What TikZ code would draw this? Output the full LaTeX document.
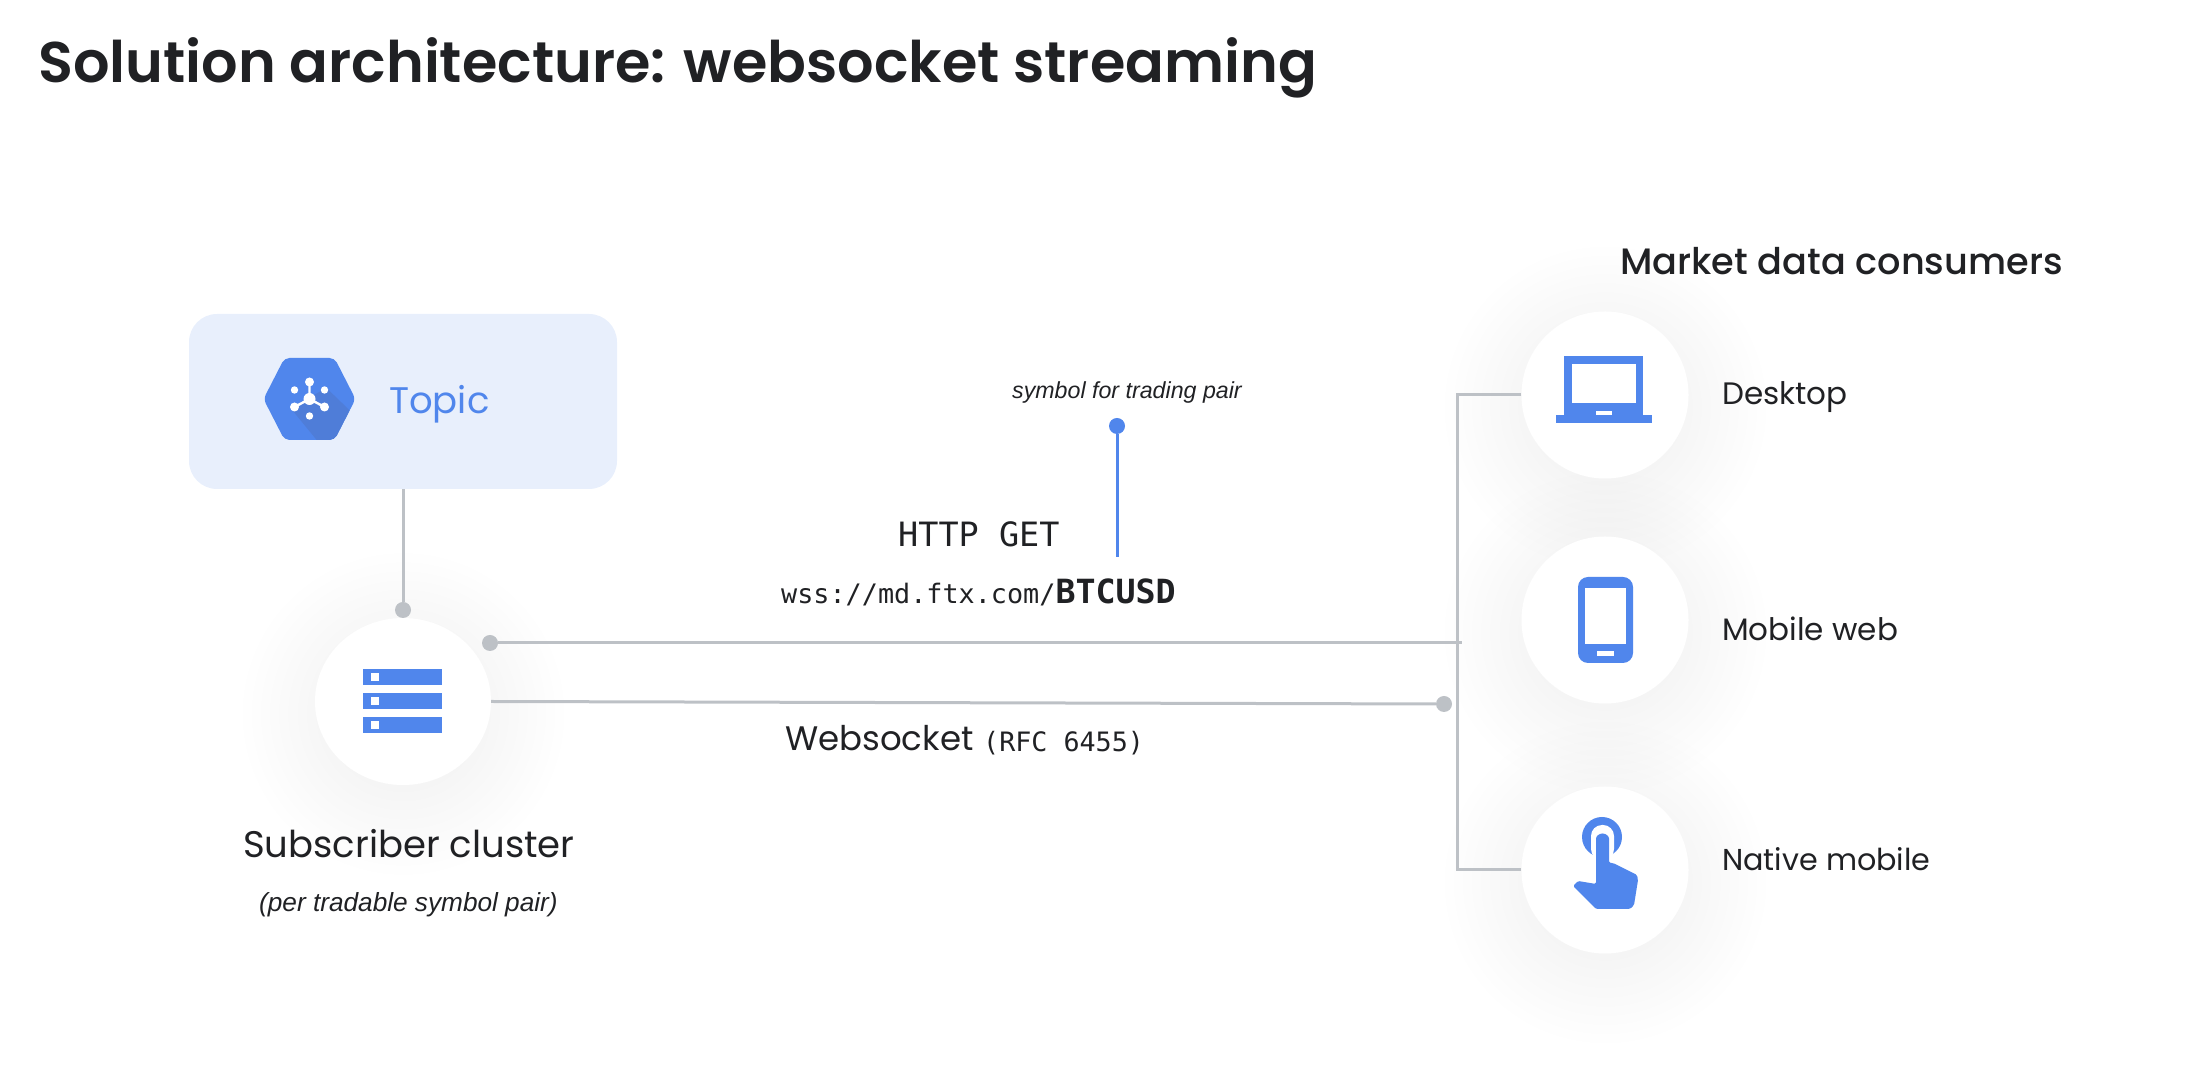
\documentclass[tikz,border=0pt]{standalone}
\usepackage{fontspec}
\setmainfont{Poppins}
\newfontfamily\notefont{Liberation Sans}
\newfontfamily\codefont{DejaVu Sans Mono}
\usetikzlibrary{arrows.meta, backgrounds, calc, fadings, positioning, shapes.geometric}
\definecolor{Blue}{HTML}{5086EC}
\definecolor{DarkBlue}{HTML}{4F7DD8}
\definecolor{LiteBlue}{HTML}{E8EFFC}
\definecolor{Grey}{HTML}{BDC1C6}
\definecolor{Ink}{HTML}{202124}
\tikzfading[name=soft_edge, inner color=transparent!0, outer color=transparent!100]
\tikzset{%
  topic_box/.style={%
    rectangle,%
    rounded corners=28pt,%
    fill=LiteBlue,%
    minimum width=428pt,%
    minimum height=175pt,%
  },
  round_node/.style={%
    circle,%
    fill=white,%
    inner sep=0pt,%
    minimum size=167pt,%
  },
  wide_node/.style={%
    ellipse,%
    fill=white,%
    inner sep=0pt,%
    minimum width=176pt,%
    minimum height=167pt,%
  },
  grey_dot/.style={%
    circle,%
    fill=Grey,%
    inner sep=0pt,%
    minimum size=16pt,%
  },
  blue_dot/.style={%
    grey_dot,%
    fill=Blue,%
  },
  grey_path/.style={%
    color=Grey,%
    line width=3pt,%
    line join=miter,%
  },
  blue_path/.style={%
    color=Blue,%
    line width=3pt,%
  },
  title_text/.style={%
    anchor=base west,%
    inner sep=0pt,%
    color=Ink,%
    font={\fontsize{57.3}{68}\selectfont\fontspec{Poppins SemiBold}},%
  },
  head_text/.style={%
    anchor=base west,%
    inner sep=0pt,%
    color=Ink,%
    font={\fontsize{36.7}{44}\selectfont\fontspec{Poppins Medium}},%
  },
  label_text/.style={%
    anchor=base west,%
    inner sep=0pt,%
    color=Ink,%
    font={\fontsize{31}{40}\selectfont},%
  },
  note_text/.style={%
    anchor=base west,%
    inner sep=0pt,%
    color=Ink,%
    font={\fontsize{26.2}{30}\selectfont\notefont\itshape},%
  },
  code_text/.style={%
    anchor=base west,%
    inner sep=0pt,%
    color=Ink,%
    font={\fontsize{26.8}{32}\selectfont\codefont},%
  },
}
\begin{document}
\begin{tikzpicture}[x=1pt, y=1pt, on grid]
  \useasboundingbox (0,0) rectangle (2194,1086);

  \node [title_text] (Title) at (38,1003) {Solution architecture: websocket streaming};

  % left side
  \node [topic_box] (Topic) at (403,684.5) {};
  \node [wide_node, below = 300 of Topic] (Subscriber) {};
  \node [grey_dot, below = 208.5 of Topic] (TopicDot) {};
  \node [grey_dot, above right = 58.5 and 87 of Subscriber] (FeedDot) {};
  \node [label_text, anchor=base west, color=Blue, font={\fontsize{37}{44}\selectfont}] (TopicText) at (389,672) {Topic};
  \node [label_text, font={\fontsize{37}{44}\selectfont}] (SubscriberText) at (243,228) {Subscriber cluster};
  \node [note_text] (PerSymbol) at (259,174) {(per tradable symbol pair)};

  % right side
  \node [round_node] (Desktop) at (1605,691) {};
  \node [round_node, below = 225 of Desktop] (Mobile) {};
  \node [round_node, below = 250 of Mobile] (Native) {};
  \node [head_text] (Consumers) at (1620,811) {Market data consumers};
  \node [label_text] (DesktopText) at ($(Desktop)+(117,0)+(0,-10)$) {Desktop};
  \node [label_text] (MobileText) at ($(Mobile)+(117,0)+(0,-21)$) {Mobile web};
  \node [label_text, font={\fontsize{30.2}{40}\selectfont}] (NativeText) at ($(Native)+(117,0)+(0,-1)$) {Native mobile};

  % middle
  \node [note_text, font={\fontsize{23.2}{30}\selectfont\notefont\itshape}] (SymbolNote) at (1012,687) {symbol for trading pair};
  \node [blue_dot] (SymbolDot) at (1117,660) {};
  \coordinate (SymbolEnd) at (1117,529);
  \node [code_text, font={\fontsize{33.5}{40}\selectfont\codefont}] (HttpGet) at (898,539) {HTTP GET};
  \node [code_text] (WssUrl) at (781,482) {wss://md.ftx.com/\textbf{\fontsize{33.3}{40}\selectfont BTCUSD}};
  \node [label_text, font={\fontsize{34}{44}\selectfont}] (WebsocketText) at (785,335) {Websocket};
  \node [code_text, font={\fontsize{26.7}{32}\selectfont\codefont}] (RfcText) at (983,334) {(RFC 6455)};
  \coordinate (FeedEnd) at (1462,443);
  \node [grey_dot] (AckDot) at (1444,382) {};

  \draw [grey_path] (Topic.south) -- (TopicDot);
  \draw [grey_path] (FeedDot) -- (FeedEnd);
  \draw [grey_path] (Subscriber.east) -- (AckDot);
  \draw [grey_path]
    (Desktop.west)
    --
    +(-63.5,0)
    |-
    (Native.west);
  \draw [blue_path] (SymbolDot) -- (SymbolEnd);

  \begin{pgfonlayer}{background}
    \foreach \n in {Subscriber, Desktop, Mobile, Native} {
      \fill [black, opacity=0.07, path fading=soft_edge]
        ($(\n)+(0,-12)$) circle (165);
    }
  \end{pgfonlayer}

  % hexagon icon
  \begin{scope}[shift={(309.5,687)}]
    \begin{scope}
      \clip [rounded corners=5pt]
        (-46,0) -- (-25,41) -- (25,41) -- (46,0) -- (25,-41) -- (-25,-41) -- cycle;
      \fill [Blue] (-47,-42) rectangle (47,42);
      \fill [DarkBlue]
        (17,11) -- (48,-19) -- (30,-42) -- (8,-42) -- (-19,-9) -- cycle;
    \end{scope}
    \draw [white, line width=2.4pt] (0,0) -- (0,17) (0,0) -- (-15,-8) (0,0) -- (15,-8);
    \fill [white]
      (0,0) circle (6)
      (0,17) circle (4.5)
      (-15,9) circle (3.7)
      (15,9) circle (3.7)
      (-15,-8) circle (4.5)
      (15,-8) circle (4.5)
      (0,-17) circle (3.7);
  \end{scope}

  % server icon
  \begin{scope}[shift={(Subscriber.center)}]
    \fill [Blue] (-40,16) rectangle (39,32);
    \fill [Blue] (-40,-8) rectangle (39,8);
    \fill [Blue] (-40,-31.5) rectangle (39,-15.5);
    \fill [white] (-32,20) rectangle (-24,28);
    \fill [white] (-32,-4) rectangle (-24,4);
    \fill [white] (-32,-27.5) rectangle (-24,-19.5);
  \end{scope}

  % laptop icon
  \begin{scope}[shift={(Desktop.center)}]
    \fill [Blue] (-41,39) rectangle (38,-20);
    \fill [Blue] (-49,-20) rectangle (46.5,-28);
    \fill [white] (-33,31) rectangle (31,-8);
    \fill [white] (-9,-16.5) rectangle (7,-20.5);
  \end{scope}

  % phone icon
  \begin{scope}[shift={(Mobile.center)}]
    \fill [Blue, rounded corners=10pt] (-27,43) rectangle (28,-43);
    \fill [white] (-20,32) rectangle (21,-24);
    \fill [white] (-8,-31.5) rectangle (9,-36);
  \end{scope}

  % touch icon
  \begin{scope}[shift={(Native.center)}]
    \fill [Blue] (-3,33) circle (20);
    \fill [white, rounded corners=11pt] (-14,10) -- (-14,45) -- (9,45) -- (9,10) -- cycle;
    \fill [white] (-14,5) rectangle (9,15);
    \fill [Blue, rounded corners=1.5pt]
      (-9,-14) -- (-9,30)
      arc (180:0:6.5)
      -- (4,7) -- (8,7) -- (32,-5) -- (33,-10) -- (29,-35) -- (25,-39) -- (-9,-39) -- (-32,-16) -- (-27,-11) -- cycle;
  \end{scope}
\end{tikzpicture}
\end{document}
